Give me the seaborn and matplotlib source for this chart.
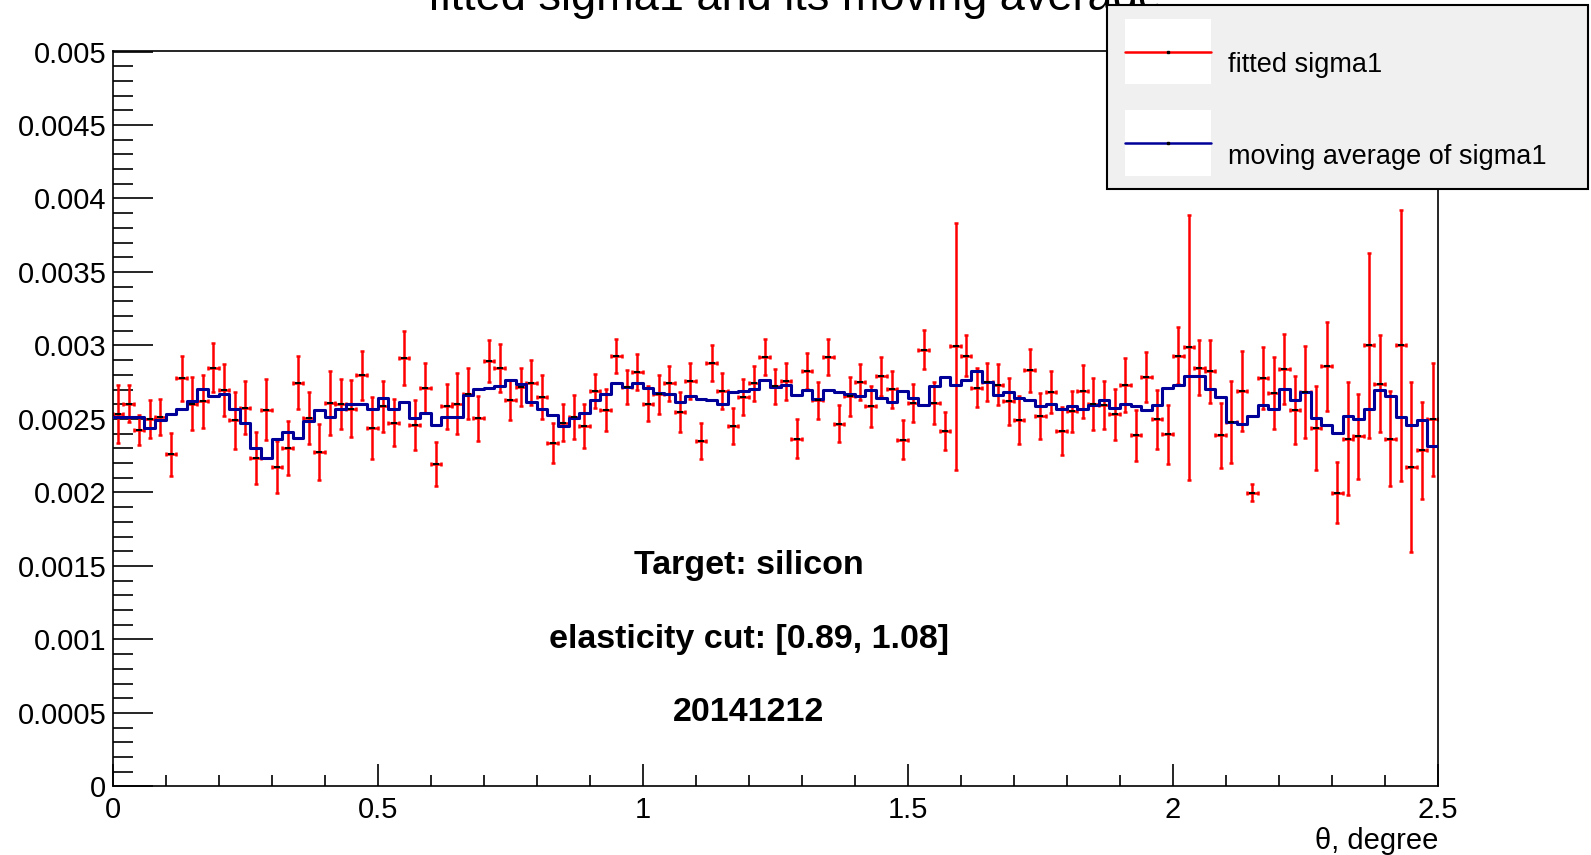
import numpy as np
import pandas as pd
import matplotlib
matplotlib.use("Agg")
import matplotlib.pyplot as plt
from matplotlib.lines import Line2D
from matplotlib.patches import Rectangle
from matplotlib.ticker import MultipleLocator, FuncFormatter
import seaborn as sns

# ---- data -------------------------------------------------------------
n_bins = 125
theta_range = (0.0, 2.5)
bin_edges = np.linspace(theta_range[0], theta_range[1], n_bins + 1)
theta = 0.5 * (bin_edges[:-1] + bin_edges[1:])  # bin centres

sigma1 = [
    0.002531, 0.002604, 0.002422, 0.002501, 0.002513, 0.002259, 0.002778, 0.002604,
    0.002619, 0.002848, 0.002699, 0.002490, 0.002576, 0.002236, 0.002563, 0.002173,
    0.002302, 0.002746, 0.002508, 0.002275, 0.002610, 0.002604, 0.002570, 0.002796,
    0.002438, 0.002585, 0.002474, 0.002914, 0.002458, 0.002712, 0.002196, 0.002585,
    0.002604, 0.002672, 0.002506, 0.002893, 0.002848, 0.002626, 0.002717, 0.002746,
    0.002649, 0.002339, 0.002474, 0.002513, 0.002452, 0.002690, 0.002558, 0.002927,
    0.002717, 0.002818, 0.002604, 0.002667, 0.002744, 0.002547, 0.002760, 0.002350,
    0.002880, 0.002690, 0.002452, 0.002651, 0.002744, 0.002921, 0.002722, 0.002755,
    0.002366, 0.002825, 0.002626, 0.002921, 0.002468, 0.002653, 0.002751, 0.002585,
    0.002791, 0.002703, 0.002359, 0.002610, 0.002972, 0.002610, 0.002420, 0.002993,
    0.002930, 0.002712, 0.002751, 0.002733, 0.002621, 0.002490, 0.002830, 0.002519,
    0.002683, 0.002418, 0.002553, 0.002687, 0.002604, 0.002594, 0.002531, 0.002730,
    0.002388, 0.002784, 0.002497, 0.002395, 0.002930, 0.002988, 0.002848, 0.002825,
    0.002388, 0.002479, 0.002690, 0.001999, 0.002778, 0.002676, 0.002841, 0.002558,
    0.002683, 0.002438, 0.002857, 0.001999, 0.002366, 0.002381, 0.003000, 0.002740,
    0.002366, 0.003000, 0.002173, 0.002286, 0.002497,
]

sigma1_err = [
    0.000198, 0.000125, 0.000102, 0.000128, 0.000125, 0.000144, 0.000153, 0.000179,
    0.000178, 0.000167, 0.000176, 0.000193, 0.000181, 0.000178, 0.000206, 0.000179,
    0.000185, 0.000181, 0.000178, 0.000193, 0.000217, 0.000170, 0.000193, 0.000165,
    0.000212, 0.000172, 0.000161, 0.000185, 0.000168, 0.000170, 0.000150, 0.000153,
    0.000206, 0.000172, 0.000153, 0.000142, 0.000164, 0.000136, 0.000130, 0.000153,
    0.000151, 0.000136, 0.000125, 0.000148, 0.000153, 0.000113, 0.000143, 0.000117,
    0.000116, 0.000122, 0.000121, 0.000130, 0.000119, 0.000133, 0.000121, 0.000122,
    0.000125, 0.000122, 0.000121, 0.000122, 0.000119, 0.000122, 0.000117, 0.000125,
    0.000134, 0.000121, 0.000127, 0.000120, 0.000127, 0.000133, 0.000125, 0.000139,
    0.000133, 0.000126, 0.000133, 0.000130, 0.000130, 0.000144, 0.000130, 0.000840,
    0.000139, 0.000133, 0.000130, 0.000138, 0.000159, 0.000163, 0.000145, 0.000155,
    0.000145, 0.000160, 0.000139, 0.000183, 0.000177, 0.000161, 0.000172, 0.000183,
    0.000176, 0.000170, 0.000200, 0.000203, 0.000195, 0.000900, 0.000187, 0.000215,
    0.000221, 0.000278, 0.000273, 0.000060, 0.000213, 0.000246, 0.000240, 0.000231,
    0.000315, 0.000283, 0.000300, 0.000210, 0.000385, 0.000287, 0.000630, 0.000332,
    0.000325, 0.000920, 0.000580, 0.000330, 0.000385,
]

moving_avg = [
    0.002513, 0.002513, 0.002513, 0.002440, 0.002490, 0.002531, 0.002565, 0.002619,
    0.002705, 0.002653, 0.002667, 0.002569, 0.002474, 0.002304, 0.002236, 0.002366,
    0.002411, 0.002372, 0.002486, 0.002563, 0.002513, 0.002569, 0.002603, 0.002603,
    0.002569, 0.002641, 0.002569, 0.002614, 0.002505, 0.002540, 0.002460, 0.002513,
    0.002513, 0.002660, 0.002705, 0.002712, 0.002724, 0.002767, 0.002740, 0.002614,
    0.002569, 0.002524, 0.002455, 0.002508, 0.002540, 0.002626, 0.002667, 0.002746,
    0.002717, 0.002746, 0.002712, 0.002676, 0.002667, 0.002614, 0.002653, 0.002637,
    0.002626, 0.002603, 0.002683, 0.002690, 0.002701, 0.002762, 0.002717, 0.002728,
    0.002660, 0.002699, 0.002637, 0.002694, 0.002683, 0.002671, 0.002653, 0.002694,
    0.002642, 0.002614, 0.002690, 0.002644, 0.002596, 0.002724, 0.002785, 0.002728,
    0.002762, 0.002826, 0.002751, 0.002660, 0.002683, 0.002644, 0.002626, 0.002587,
    0.002603, 0.002569, 0.002585, 0.002569, 0.002598, 0.002626, 0.002574, 0.002603,
    0.002585, 0.002558, 0.002592, 0.002712, 0.002728, 0.002791, 0.002791, 0.002705,
    0.002648, 0.002478, 0.002467, 0.002519, 0.002592, 0.002569, 0.002705, 0.002630,
    0.002683, 0.002505, 0.002462, 0.002403, 0.002519, 0.002497, 0.002569, 0.002699,
    0.002653, 0.002513, 0.002462, 0.002490, 0.002315,
]

title_text = "fitted sigma1 and its moving average"
legend_labels = ["fitted sigma1", "moving average of sigma1"]
info_lines = ["Target: silicon", "elasticity cut: [0.89, 1.08]", "20141212"]
info_y = [0.0015, 0.001, 0.0005]
info_x = 1.2

ma_df = pd.DataFrame({"theta": theta, "ma": moving_avg})

# ---- style ------------------------------------------------------------
sns.set_style("white")
plt.rcParams["font.family"] = ["Liberation Sans", "DejaVu Sans"]

W, H = 1591, 855
fig = plt.figure(figsize=(W / 100, H / 100), dpi=100)
fig.patch.set_facecolor("white")


def fx(px):
    return px / W


def fy(py):
    return 1 - py / H


ax_left, ax_right, ax_top, ax_bottom = 112.6, 1438.0, 51.5, 786.4
ax = fig.add_axes([fx(ax_left), fy(ax_bottom), fx(ax_right - ax_left),
                   (ax_bottom - ax_top) / H])

RED = "#ff0000"
NAVY = "#000099"

# moving average drawn as a step histogram
sns.histplot(data=ma_df, x="theta", weights="ma", bins=n_bins,
             binrange=theta_range, element="step", fill=False, color=NAVY,
             linewidth=2.2, ax=ax, zorder=3)

# fitted sigma with error bars
ax.errorbar(theta, sigma1, yerr=sigma1_err, xerr=0.01, fmt="none",
            ecolor=RED, elinewidth=1.8, capsize=1.5, capthick=1.8, zorder=2)
ax.plot(theta, sigma1, ls="none", marker="_", color="black", ms=4, mew=1.5,
        zorder=4)

ax.set_xlim(0, 2.5)
ax.set_ylim(0, 0.005)
ax.set_ylabel("")

ax.xaxis.set_major_locator(MultipleLocator(0.5))
ax.xaxis.set_minor_locator(MultipleLocator(0.1))
ax.yaxis.set_major_locator(MultipleLocator(0.0005))
ax.yaxis.set_minor_locator(MultipleLocator(0.0001))
ax.yaxis.set_major_formatter(FuncFormatter(lambda v, p: f"{v:g}"))
ax.xaxis.set_major_formatter(FuncFormatter(lambda v, p: f"{v:g}"))

ax.tick_params(axis="both", which="both", direction="in", top=False,
               right=False, left=True, bottom=True, color="black", width=1.2,
               labelsize=21, labelcolor="black")
ax.tick_params(axis="y", which="major", length=29, pad=4.5)
ax.tick_params(axis="y", which="minor", length=14.5)
ax.tick_params(axis="x", which="major", length=16, pad=7)
ax.tick_params(axis="x", which="minor", length=8)

for s in ax.spines.values():
    s.set_visible(True)
    s.set_color("black")
    s.set_linewidth(1.2)

ax.set_xlabel("θ, degree", loc="right", fontsize=21, labelpad=2,
              color="black")

for t, yv in zip(info_lines, info_y):
    ax.text(info_x, yv, t, ha="center", va="center", fontsize=24.5,
            fontweight="bold", color="black", zorder=5)

# title (partly beyond the top edge, under the legend box)
fig.text(0.5, fy(10), title_text, ha="center", va="baseline", fontsize=32.5,
         color="black", zorder=1)

# ---- legend box ---------------------------------------------------------
leg_x0, leg_x1, leg_y0, leg_y1 = 1107, 1588, 5, 189
fig.add_artist(Rectangle((fx(leg_x0), fy(leg_y1)), fx(leg_x1 - leg_x0),
                         (leg_y1 - leg_y0) / H, transform=fig.transFigure,
                         facecolor="#f0f0f0", edgecolor="black", lw=1.5,
                         zorder=10))
entries = [(legend_labels[0], RED, 19.3, 84.3, 51.7, 71.5),
           (legend_labels[1], NAVY, 110.0, 175.7, 143.3, 163.5)]
for label, col, by0, by1, ly, ty in entries:
    fig.add_artist(Rectangle((fx(1125), fy(by1)), fx(1210.7 - 1125),
                             (by1 - by0) / H, transform=fig.transFigure,
                             facecolor="white", edgecolor="none", zorder=11))
    fig.add_artist(Line2D([fx(1125), fx(1210.7)], [fy(ly), fy(ly)],
                          transform=fig.transFigure, color=col, lw=1.8,
                          zorder=12))
    fig.add_artist(Line2D([fx(1167.5)], [fy(ly)], transform=fig.transFigure,
                          ls="none", marker="s", ms=1.8, color="black",
                          zorder=13))
    fig.text(fx(1227.7), fy(ty), label, ha="left", va="baseline",
             fontsize=19.5, color="black", zorder=13)

fig.savefig("out.png", dpi=100, facecolor="white")
